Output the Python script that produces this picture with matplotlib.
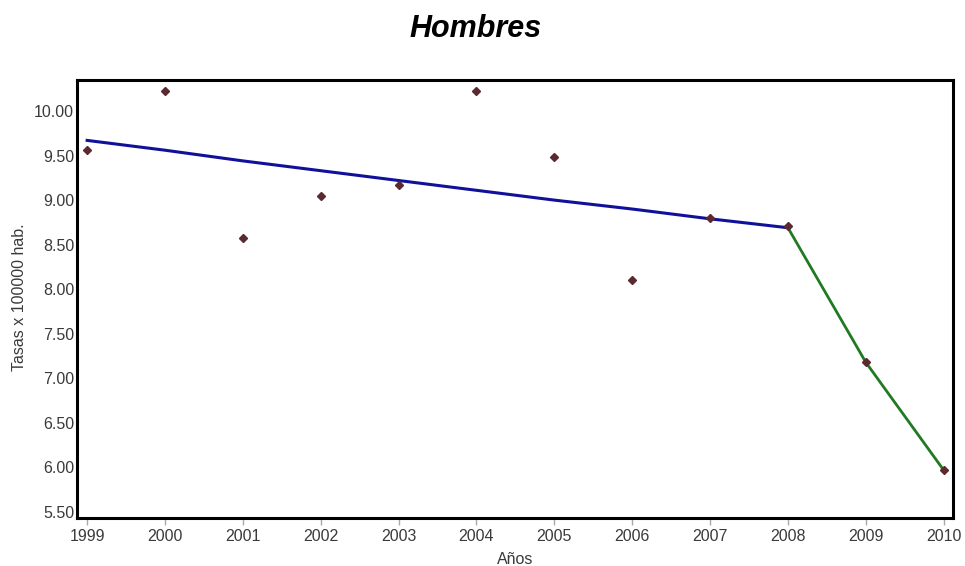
import matplotlib
matplotlib.use("Agg")
import matplotlib.pyplot as plt

# observed rates per year
years = [1999, 2000, 2001, 2002, 2003, 2004, 2005, 2006, 2007, 2008, 2009, 2010]
rates = [9.56, 10.22, 8.58, 9.05, 9.17, 10.22, 9.48, 8.10, 8.80, 8.71, 7.18, 5.97]

# fitted segments (joinpoint)
seg1_years = [1999, 2000, 2001, 2002, 2003, 2004, 2005, 2006, 2007, 2008]
seg1_fit = [9.67, 9.56, 9.44, 9.33, 9.22, 9.11, 9.00, 8.90, 8.79, 8.69]
seg2_years = [2008, 2009, 2010]
seg2_fit = [8.69, 7.18, 5.97]

yticks = [5.5, 6.0, 6.5, 7.0, 7.5, 8.0, 8.5, 9.0, 9.5, 10.0]

plt.rcParams["font.family"] = ["Liberation Sans", "DejaVu Sans"]

fig = plt.figure(figsize=(9.65, 5.66), dpi=100)
ax = fig.add_axes([0.0798, 0.0848, 0.9078, 0.7739])

ax.plot(seg1_years, seg1_fit, color="#10109a", lw=2.2, zorder=2)
ax.plot(seg2_years, seg2_fit, color="#1f7a22", lw=2.0, zorder=2)
ax.plot(years, rates, ls="none", marker="D", ms=3.8, color="#5a2a30",
        mec="#5a2a30", zorder=3)

ax.set_xlim(1998.87, 2010.12)
ax.set_ylim(5.433, 10.348)
ax.set_xticks(years)
ax.set_xticklabels([str(y) for y in years])
ax.set_yticks(yticks)
ax.set_yticklabels([f"{v:.2f}" for v in yticks])

ax.tick_params(axis="x", length=5, width=1, color="#aaaaaa", pad=3,
               labelsize=11.5, labelcolor="#3a3a3a")
ax.tick_params(axis="y", length=0, pad=2, labelsize=11.5, labelcolor="#3a3a3a")
for sp in ax.spines.values():
    sp.set_linewidth(2.2)
    sp.set_color("black")

fig.text(0.493, 0.948, "Hombres", ha="center", va="center", fontsize=22,
         fontweight="bold", fontstyle="italic")
fig.text(0.534, 0.011, "Años", ha="center", va="center", fontsize=11.5,
         color="#3a3a3a")
fig.text(0.02, 0.475, "Tasas x 100000 hab.", ha="center", va="center",
         rotation=90, fontsize=11.5, color="#3a3a3a")

fig.savefig("out.png", dpi=100)
